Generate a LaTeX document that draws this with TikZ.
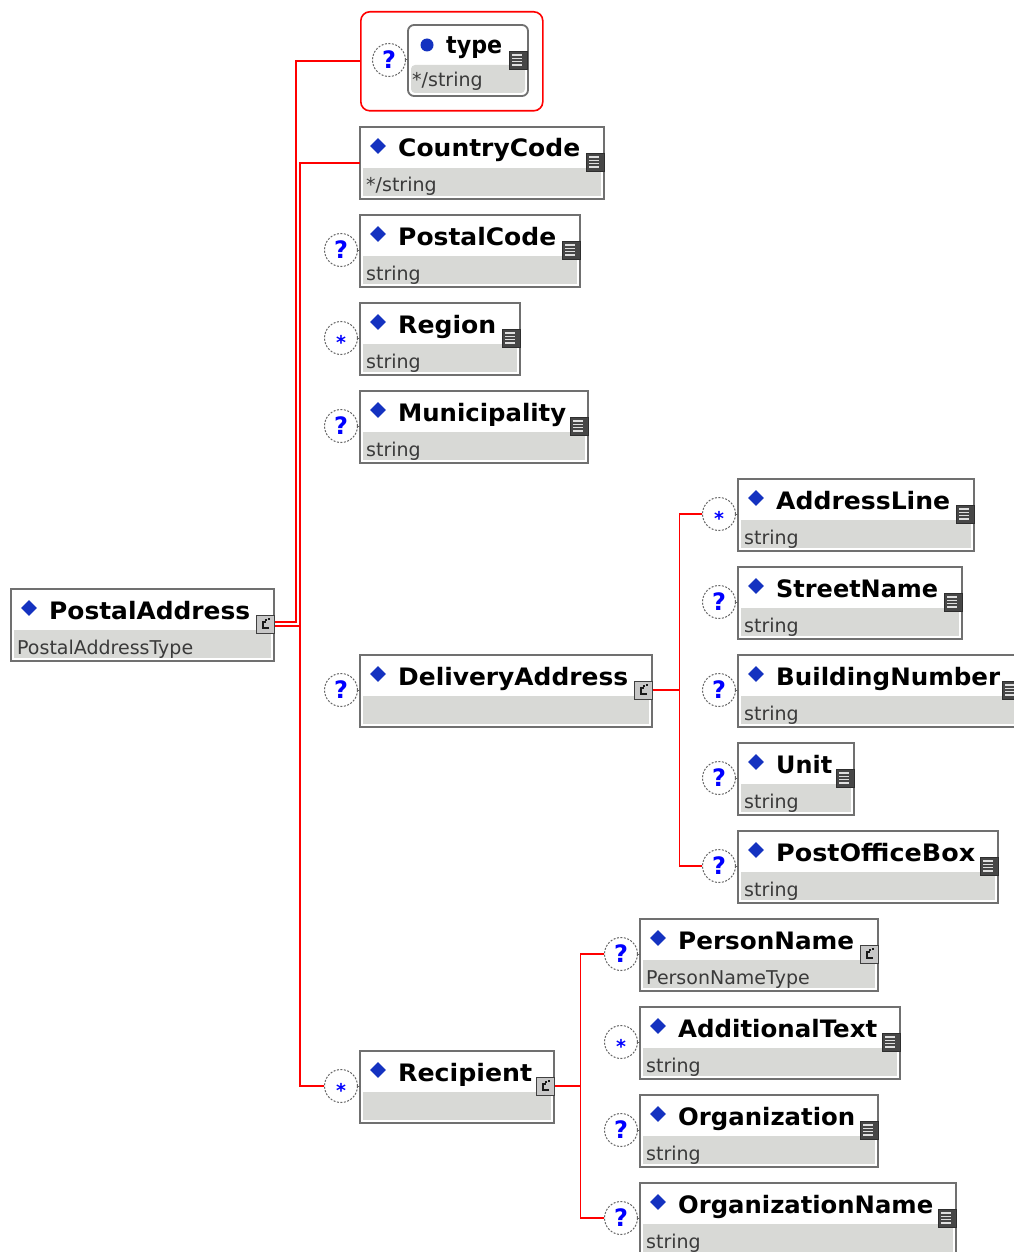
\documentclass[tikz,border=0pt]{standalone}
\usepackage{fontspec}
\setmainfont{DejaVu Sans}
\usepackage{graphicx}
\usetikzlibrary{shapes.geometric,calc}
\definecolor{bandgray}{HTML}{D8D9D6}
\definecolor{boxborder}{HTML}{707070}
\definecolor{subtxt}{HTML}{3A3A3A}
\definecolor{diablue}{HTML}{1432C0}
\definecolor{linered}{HTML}{FF0000}
\definecolor{qblue}{HTML}{0000FF}
\newlength\ttw
\newcommand\ttlfont{\fontsize{24}{24}\selectfont\bfseries}
\newcommand\fitw[2]{\settowidth{\ttw}{\ttlfont #2}\pgfmathsetmacro\xsc{#1/\ttw}\scalebox{\xsc}[1]{\ttlfont #2}}
\newcommand\occq{?}
\newcommand\occstar{\fontsize{19}{19}\selectfont\raisebox{-3pt}{*}}
\tikzset{
  ebox/.style={draw=boxborder, line width=1.8pt, fill=white, minimum height=72, inner sep=0, outer sep=0},
  diam/.style={diamond, fill=diablue, minimum size=16, inner sep=0},
  dot/.style={circle, fill=diablue, minimum size=13, inner sep=0},
  ttl/.style={anchor=base west, inner sep=0},
  sub/.style={anchor=base west, inner sep=0, font=\fontsize{19}{19}\selectfont, text=subtxt},
  occ/.style={circle, draw=black!60, line width=1pt, dash pattern=on 2pt off 1.5pt, fill=white, minimum size=33, inner sep=0, text height=17pt, text depth=0pt, font=\fontsize{24}{24}\selectfont\bfseries, text=qblue},
  tick/.style={draw=black!60, line width=1pt},
  conn/.style={draw=linered, line width=1.8pt},
  licon/.style={rectangle, fill=black!72, draw=black!82, line width=0.8pt, minimum size=18, inner sep=0,
    path picture={\foreach \k in {5,1.7,-1.7,-5}{\draw[black!12, line width=1.3pt] ($(path picture bounding box.center)+(-6,\k)$) -- ++(10,0);}}},
  xicon/.style={rectangle, fill=black!22, draw=black!75, line width=1pt, minimum size=18, inner sep=0,
    path picture={\draw[black!90, line width=1.4pt] ($(path picture bounding box.center)+(4,-4)$) -- ++(-6,0) -- ++(0,6) -- ++(3,0);
      \draw[black!90, line width=1.1pt] ($(path picture bounding box.center)+(1,5)$) -- ++(0,-2) ($(path picture bounding box.center)+(3,5)$) -- ++(2,0);}}
}
\newcommand\elem[8]{%
  \node[ebox, minimum width=#4, anchor=north west] (#1) at (#2,-#3) {};
  \fill[bandgray] ($(#1.north west)+(3,-41)$) rectangle ($(#1.south east)+(-3,3)$);
  \node[diam] (#1-d) at ($(#1.north west)+(18,-19)$) {};
  \node[ttl] (#1-t) at ($(#1.north west)+(38,-30)$) {\fitw{#6}{#5}};
  \node[sub] (#1-s) at ($(#1.north west)+(6,-65)$) {#7};
  \node[#8] (#1-i) at ($(#1.north east)+(-9,-35)$) {};
}
\newcommand\occ[3]{%
  \node[occ] (#1) at ($(#2.north west)+(-19,-35)$) {#3};
  \draw[tick] (#1.east) -- ($(#2.north west)+(0,-35)$);
}
\begin{document}
\begin{tikzpicture}[x=1pt,y=1pt]
\fill[white] (0,0) rectangle (1013,-1252);
\useasboundingbox (0,0) rectangle (1013,-1252);

% root
\elem{pa}{11}{589}{263}{PostalAddress}{201}{PostalAddressType}{xicon}

% attribute type
\node[draw=linered, line width=1.6pt, rounded corners=9, minimum width=182, minimum height=99, anchor=north west, inner sep=0] (tg-grp) at (360,-11) {};
\node[ebox, rounded corners=6, minimum width=120, minimum height=71, anchor=north west] (tg) at (408,-25) {};
\fill[bandgray, rounded corners=4] ($(tg.north west)+(3,-40)$) rectangle ($(tg.south east)+(-3,3)$);
\node[dot] (tg-d) at ($(tg.north west)+(19,-20)$) {};
\node[ttl] (tg-t) at ($(tg.north west)+(38,-29)$) {\fitw{56}{type}};
\node[sub] (tg-s) at ($(tg.north west)+(4,-62)$) {*/string};
\node[licon] (tg-i) at ($(tg.north east)+(-10,-35)$) {};
\occ{tg-o}{tg}{\occq}

% first level
\elem{cc}{360}{127}{244}{CountryCode}{182}{*/string}{licon}
\elem{pc}{360}{215}{220}{PostalCode}{158}{string}{licon}
\occ{pc-o}{pc}{\occq}
\elem{rg}{360}{303}{160}{Region}{98}{string}{licon}
\occ{rg-o}{rg}{\occstar}
\elem{mu}{360}{391}{228}{Municipality}{168}{string}{licon}
\occ{mu-o}{mu}{\occq}
\elem{da}{360}{655}{292}{DeliveryAddress}{230}{}{xicon}
\occ{da-o}{da}{\occq}
\elem{rc}{360}{1051}{194}{Recipient}{134}{}{xicon}
\occ{rc-o}{rc}{\occstar}

% delivery address children
\elem{al}{738}{479}{236}{AddressLine}{174}{string}{licon}
\occ{al-o}{al}{\occstar}
\elem{sn}{738}{567}{224}{StreetName}{162}{string}{licon}
\occ{sn-o}{sn}{\occq}
\elem{bn}{738}{655}{282}{BuildingNumber}{224}{string}{licon}
\occ{bn-o}{bn}{\occq}
\elem{un}{738}{743}{116}{Unit}{56}{string}{licon}
\occ{un-o}{un}{\occq}
\elem{pob}{738}{831}{260}{PostOfficeBox}{199}{string}{licon}
\occ{pob-o}{pob}{\occq}

% recipient children
\elem{pn}{640}{919}{238}{PersonName}{176}{PersonNameType}{xicon}
\occ{pn-o}{pn}{\occq}
\elem{at}{640}{1007}{260}{AdditionalText}{199}{string}{licon}
\occ{at-o}{at}{\occstar}
\elem{og}{640}{1095}{238}{Organization}{177}{string}{licon}
\occ{og-o}{og}{\occq}
\elem{on}{640}{1183}{316}{OrganizationName}{255}{string}{licon}
\occ{on-o}{on}{\occq}

% connectors
\draw[conn] ([yshift=2]pa-i.east) -| ($(tg-grp.west)+(-64,0)$) -- (tg-grp.west);
\draw[conn] ([yshift=-2]pa-i.east) -| ($(cc.west)+(-60,0)$) -- (cc.west);
\draw[conn] ($(cc.west)+(-60,0)$) |- (rc-o.west);
\draw[conn] (da-i.east) -- ++(27,0);
\draw[conn] (al-o.west) -| ($(da-i.east)+(27,0)$) |- (pob-o.west);
\draw[conn] (rc-i.east) -- ++(26,0);
\draw[conn] (pn-o.west) -| ($(rc-i.east)+(26,0)$) |- (on-o.west);
\end{tikzpicture}
\end{document}
